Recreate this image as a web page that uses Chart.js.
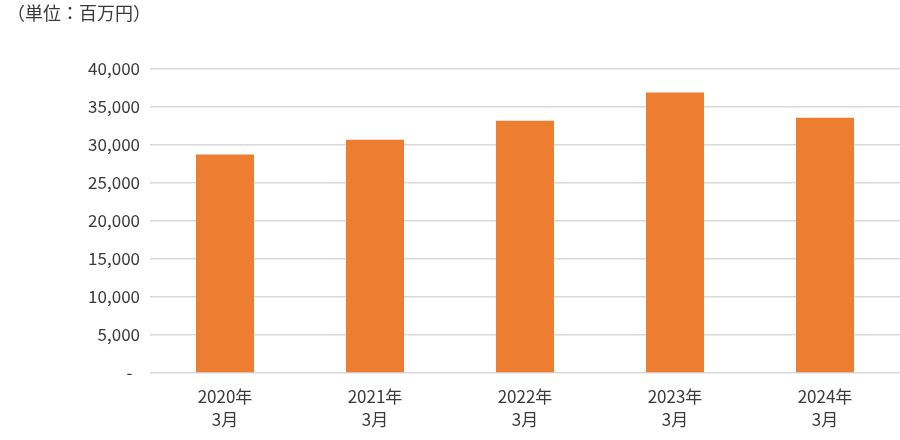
<!DOCTYPE html>
<html>
<head>
    <meta charset='utf-8'>
    <title>売上高</title>
    <script src="https://cdn.jsdelivr.net/npm/chart.js"></script>
    <style>
        body { margin: 0; background: #fff; }
        .wrap { width: 900px; height: 440px; }
    </style>
</head>
<body>
    <div class="wrap">
        <canvas id="myBarChart" width="900" height="440"></canvas>
    </div>
    <script>

        const years = ['2020年', '2021年', '2022年', '2023年', '2024年'];
        const months = ['3月', '3月', '3月', '3月', '3月'];
        const sales = [28700, 30650, 33150, 36850, 33550];
        const yTicks = [0, 5000, 10000, 15000, 20000, 25000, 30000, 35000, 40000];
        const unitText = '（単位：百万円）';

        const FONT = "'Noto Sans CJK JP', 'Noto Sans', sans-serif";
        const TEXT = '#3a3a3a';

        const ctx = document.getElementById('myBarChart').getContext('2d');

        const barConfig = {
            type: 'bar',
            data: {
                labels: years.map((y, i) => [y, months[i]]),
                datasets: [{
                    label: '売上高',
                    backgroundColor: '#ED7D31',
                    data: sales,
                    barPercentage: 0.387,
                    categoryPercentage: 1,
                }]
            },
            options: {
                responsive: false,
                animation: false,
                layout: {
                    padding: { left: 7, right: 0, top: 0, bottom: 0 }
                },
                plugins: {
                    legend: { display: false },
                    tooltip: { enabled: false },
                    title: {
                        display: true,
                        text: unitText,
                        align: 'start',
                        color: TEXT,
                        font: { family: FONT, size: 18, weight: 'normal' },
                        padding: { top: 2, bottom: 45 }
                    }
                },
                scales: {
                    x: {
                        grid: { display: false, drawTicks: false },
                        border: { display: false },
                        ticks: {
                            color: TEXT,
                            padding: 12,
                            maxRotation: 0,
                            font: { family: FONT, size: 17, lineHeight: 1.37 }
                        },
                        afterFit: function(scale) { scale.height = 67; }
                    },
                    y: {
                        min: 0,
                        max: 40000,
                        afterBuildTicks: function(scale) {
                            scale.ticks = yTicks.map(v => ({ value: v }));
                        },
                        grid: { color: '#d9d9d9', lineWidth: 1.5, drawTicks: false },
                        border: { display: false },
                        ticks: {
                            color: TEXT,
                            padding: 10,
                            font: { family: FONT, size: 17 },
                            callback: function(v) {
                                return v === 0 ? '-  ' : v.toLocaleString('en-US');
                            }
                        },
                        afterFit: function(scale) { scale.width = 143; }
                    }
                }
            }
        };

        const myBarChart = new Chart(ctx, barConfig);

    </script>
</body>
</html>
